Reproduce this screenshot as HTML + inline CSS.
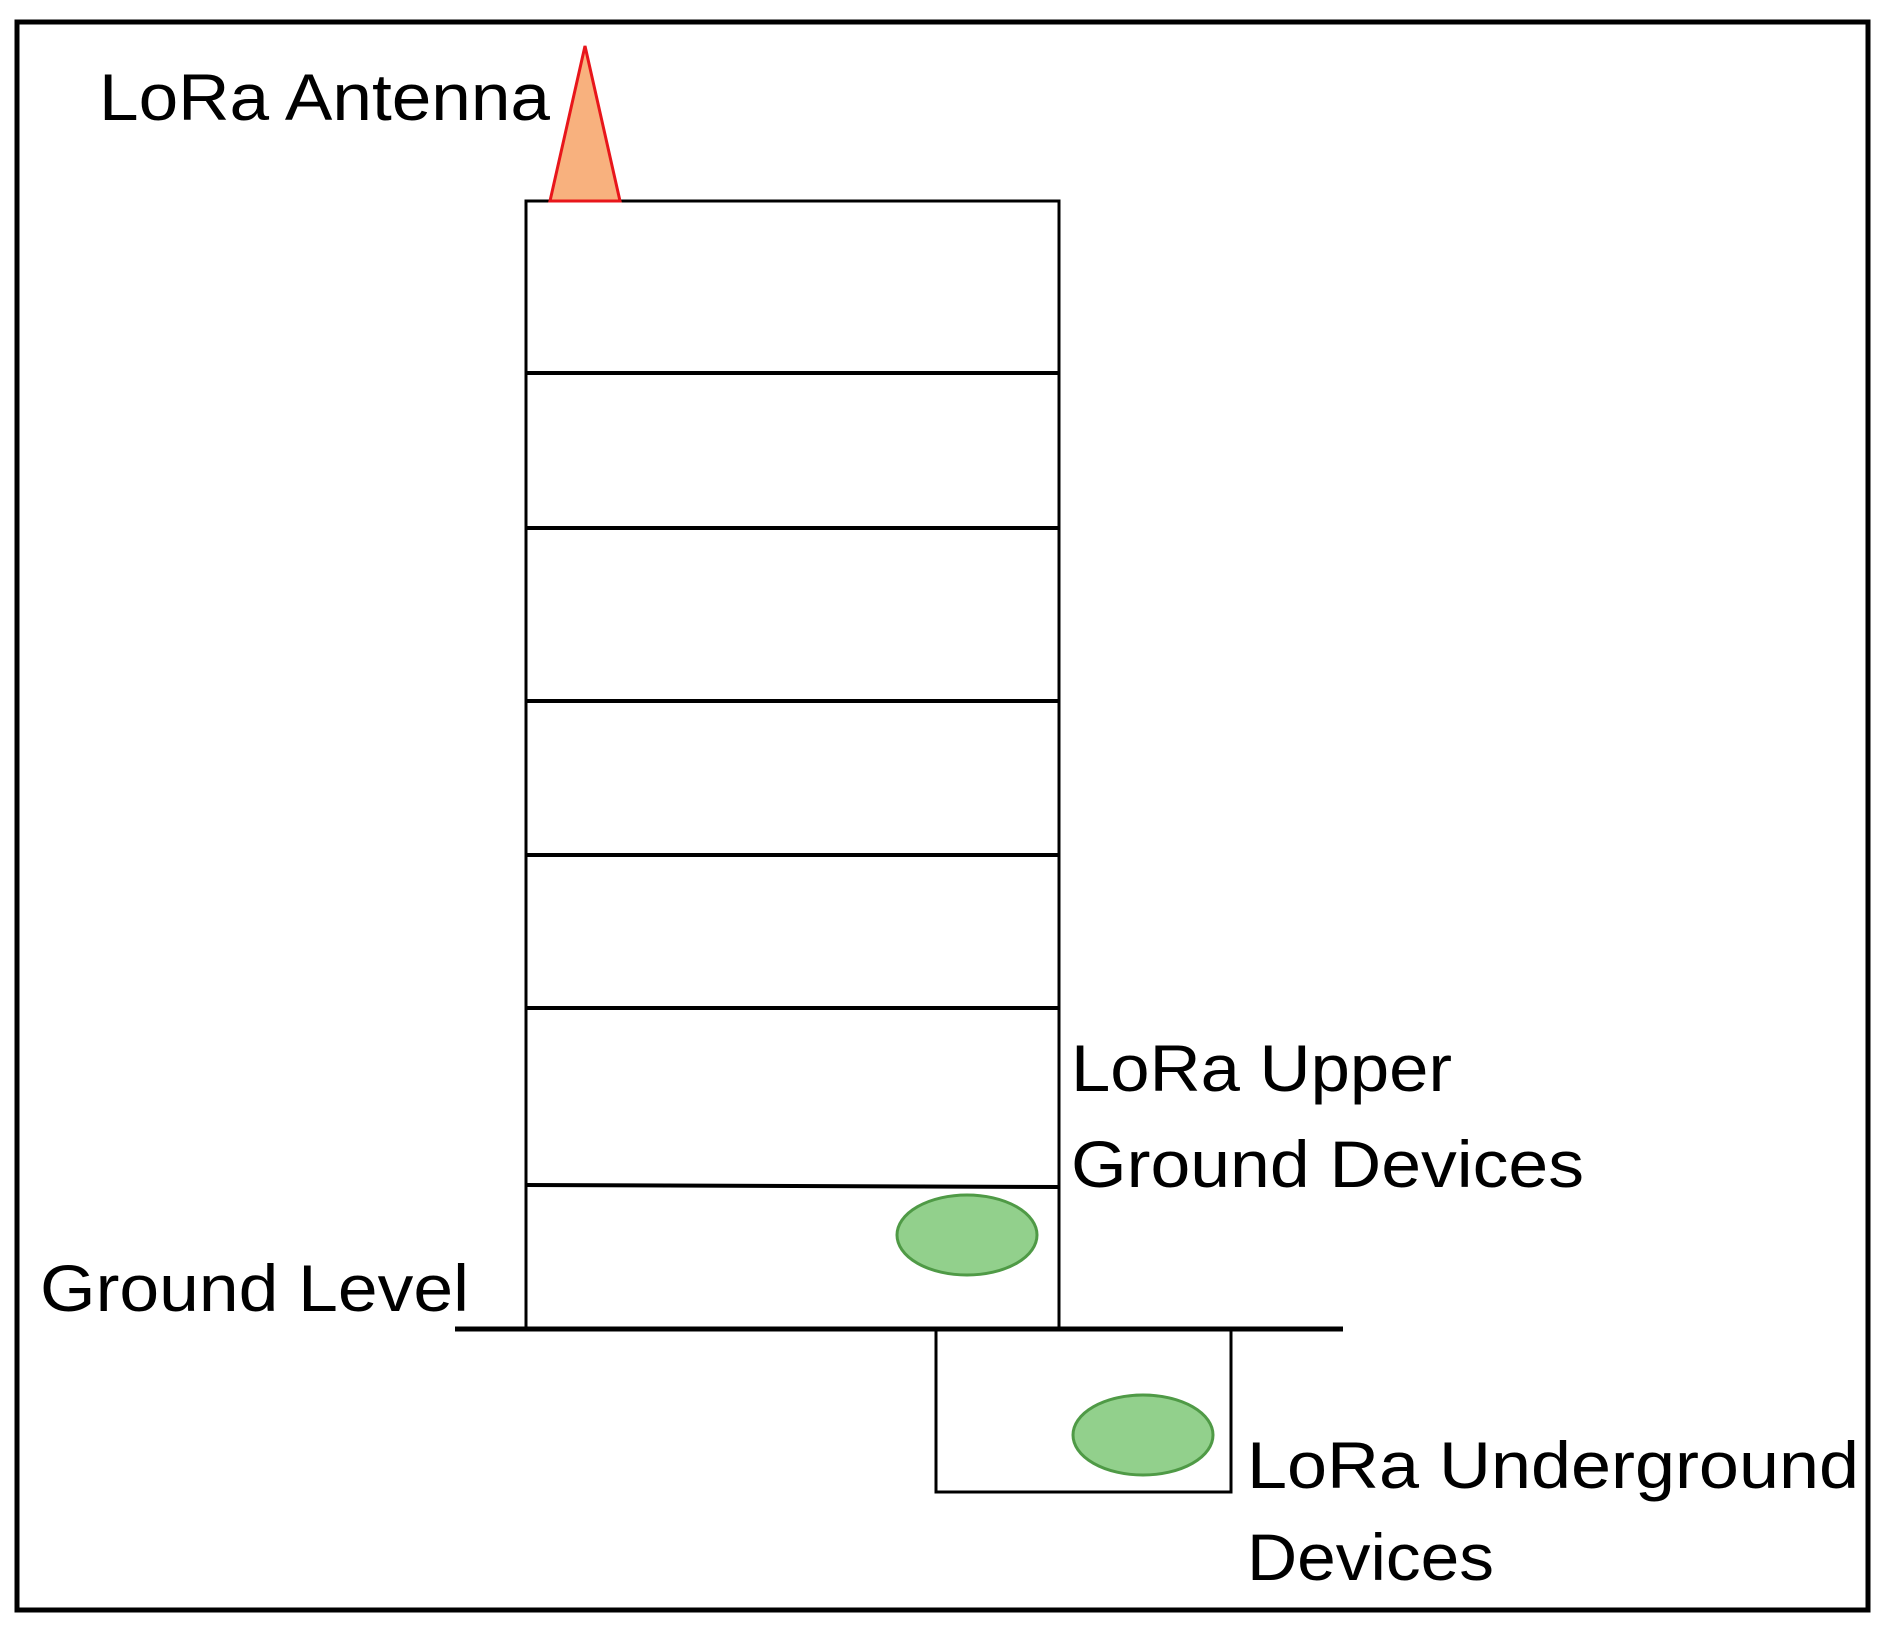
<!DOCTYPE html>
<html><head><style>html,body{margin:0;padding:0;background:#fff;}</style></head>
<body>
<svg width="1886" height="1628" viewBox="0 0 1886 1628" xmlns="http://www.w3.org/2000/svg" style="display:block">
<rect x="0" y="0" width="1886" height="1628" fill="#fff"/>
<rect x="17" y="22" width="1851" height="1588" fill="none" stroke="#000" stroke-width="5"/>
<rect x="526" y="201" width="533" height="1128" fill="none" stroke="#000" stroke-width="3"/>
<g stroke="#000" stroke-width="4">
<line x1="526" y1="373" x2="1059" y2="373"/>
<line x1="526" y1="528" x2="1059" y2="528"/>
<line x1="526" y1="701" x2="1059" y2="701"/>
<line x1="526" y1="855" x2="1059" y2="855"/>
<line x1="526" y1="1008" x2="1059" y2="1008"/>
<line x1="526" y1="1185" x2="1059" y2="1187"/>
</g>
<rect x="936" y="1329" width="295" height="163" fill="none" stroke="#000" stroke-width="3"/>
<line x1="455" y1="1329" x2="1343" y2="1329" stroke="#000" stroke-width="5"/>
<polygon points="585,46 550,201 620,201" fill="#f8b17e" stroke="#e8161b" stroke-width="3"/>
<ellipse cx="967" cy="1235" rx="70" ry="40" fill="#92d08c" stroke="#4f9a46" stroke-width="3"/>
<ellipse cx="1143" cy="1435" rx="70" ry="40" fill="#92d08c" stroke="#4f9a46" stroke-width="3"/>
<g font-family="Liberation Sans, sans-serif" font-size="66" fill="#000">
<text x="99" y="120" textLength="451" lengthAdjust="spacingAndGlyphs">LoRa Antenna</text>
<text x="1071" y="1091" textLength="381" lengthAdjust="spacingAndGlyphs">LoRa Upper</text>
<text x="1071" y="1187" textLength="513" lengthAdjust="spacingAndGlyphs">Ground Devices</text>
<text x="40" y="1311" textLength="429" lengthAdjust="spacingAndGlyphs">Ground Level</text>
<text x="1247" y="1488" textLength="612" lengthAdjust="spacingAndGlyphs">LoRa Underground</text>
<text x="1247" y="1580" textLength="247" lengthAdjust="spacingAndGlyphs">Devices</text>
</g>
</svg>
</body></html>
